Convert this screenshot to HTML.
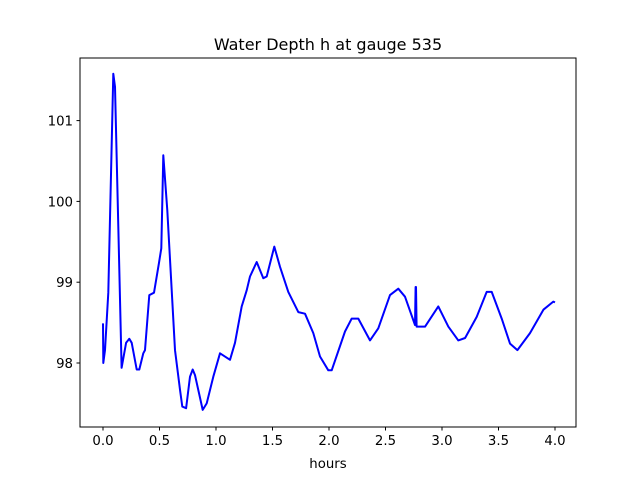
<!DOCTYPE html>
<html><head><meta charset="utf-8"><style>
body{margin:0;background:#fff;}
svg text{font-family:"DejaVu Sans","Liberation Sans",sans-serif;fill:#000;}
</style></head><body>
<svg id="chart" width="640" height="480" xmlns="http://www.w3.org/2000/svg">
<rect width="640" height="480" fill="#fff"/>
<text x="328" y="50" font-size="16" text-anchor="middle">Water Depth h at gauge 535</text>
<g id="xticks"></g><g id="yticks"></g>
<path id="series" fill="none" stroke="#0000ff" stroke-width="2" stroke-linejoin="round"/>
<rect x="80" y="58" width="496" height="369" fill="none" stroke="#000" stroke-width="1"/>
<text x="328" y="468" font-size="13.3" text-anchor="middle">hours</text>
</svg>
<script>
const hours=[0,0.003,0.018,0.047,0.091,0.106,0.135,0.165,0.204,0.233,0.254,0.298,0.321,0.357,0.372,0.410,0.451,0.496,0.516,0.534,0.569,0.637,0.681,0.702,0.735,0.770,0.794,0.814,0.882,0.918,0.976,1.035,1.124,1.168,1.227,1.272,1.301,1.360,1.419,1.449,1.516,1.566,1.640,1.728,1.788,1.861,1.920,1.994,2.024,2.142,2.201,2.259,2.363,2.436,2.540,2.613,2.673,2.761,2.766,2.770,2.775,2.782,2.850,2.967,3.056,3.144,3.204,3.307,3.396,3.440,3.528,3.602,3.667,3.779,3.897,3.985,4.0];
const depth=[98.49,98.0,98.16,98.87,101.58,101.42,99.69,97.94,98.25,98.30,98.25,97.92,97.92,98.12,98.16,98.84,98.87,99.24,99.42,100.57,99.89,98.16,97.67,97.46,97.44,97.83,97.92,97.85,97.42,97.50,97.83,98.12,98.04,98.25,98.70,98.90,99.07,99.25,99.05,99.07,99.44,99.19,98.88,98.63,98.61,98.37,98.08,97.91,97.91,98.39,98.55,98.55,98.28,98.43,98.84,98.92,98.82,98.47,98.94,98.94,98.45,98.45,98.45,98.70,98.45,98.28,98.31,98.57,98.88,98.88,98.55,98.24,98.16,98.37,98.66,98.76,98.75];
const xTicks=[0,0.5,1,1.5,2,2.5,3,3.5,4];
const xTickLabels=["0.0","0.5","1.0","1.5","2.0","2.5","3.0","3.5","4.0"];
const yTicks=[98,99,100,101];
const yTickLabels=["98","99","100","101"];
const X=t=>103+t*113, Y=v=>363-(v-98)*80.8;
const ns="http://www.w3.org/2000/svg";
const p=document.getElementById('series');
p.setAttribute('d',hours.map((t,i)=>(i?'L':'M')+X(t).toFixed(1)+','+Y(depth[i]).toFixed(1)).join(''));
const xg=document.getElementById('xticks'),yg=document.getElementById('yticks');
xTicks.forEach((t,i)=>{
 const l=document.createElementNS(ns,'line');
 
 
 l.setAttribute('x1',X(t));l.setAttribute('x2',X(t));l.setAttribute('y1',427);l.setAttribute('y2',430.5);l.setAttribute('stroke','#000');
 xg.appendChild(l);
 const tx=document.createElementNS(ns,'text');
 
 
 tx.setAttribute('x',X(t));tx.setAttribute('y',445);tx.setAttribute('font-size','13.3');tx.setAttribute('text-anchor','middle');
 tx.textContent=xTickLabels[i];xg.appendChild(tx);
});
yTicks.forEach((v,i)=>{
 const l=document.createElementNS(ns,'line');
 
 
 l.setAttribute('x1',76.5);l.setAttribute('x2',80);l.setAttribute('y1',Y(v));l.setAttribute('y2',Y(v));l.setAttribute('stroke','#000');
 yg.appendChild(l);
 const tx=document.createElementNS(ns,'text');
 
 
 tx.setAttribute('x',73);tx.setAttribute('y',Y(v)+5);tx.setAttribute('font-size','13.3');tx.setAttribute('text-anchor','end');
 tx.textContent=yTickLabels[i];yg.appendChild(tx);
});
</script>
</body></html>
